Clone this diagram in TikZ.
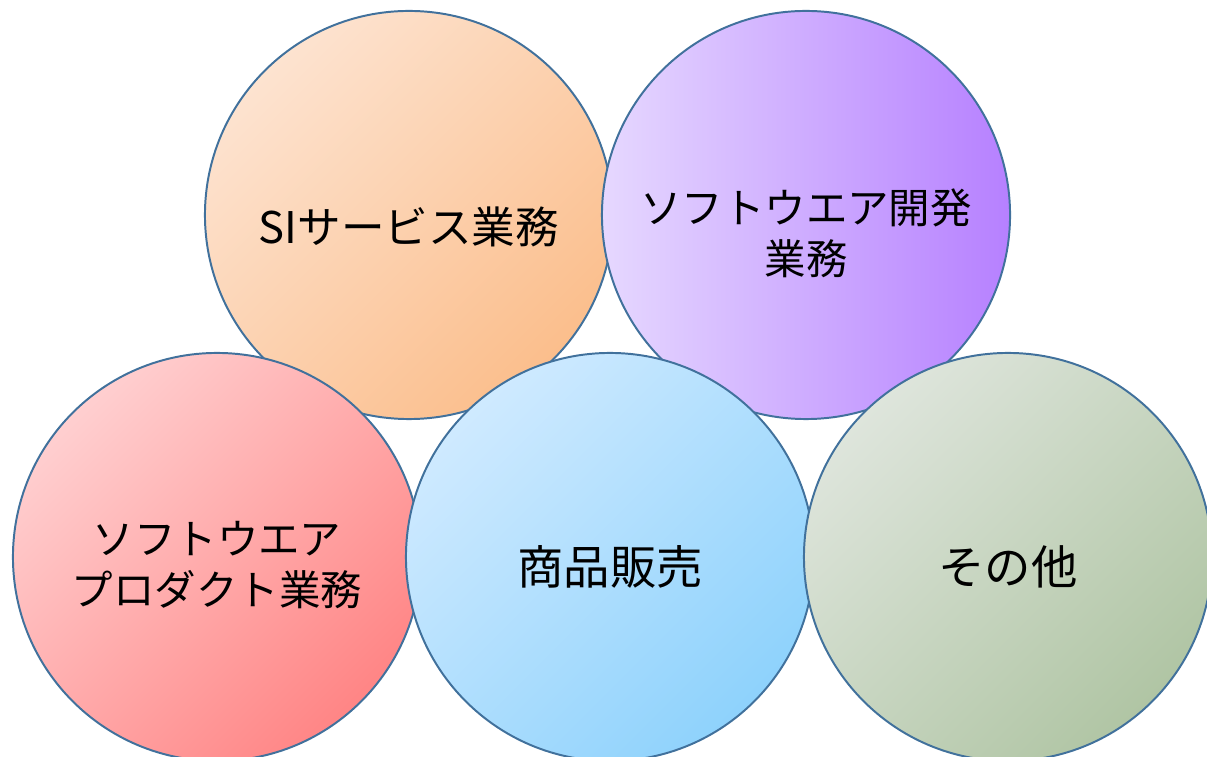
\documentclass[tikz,border=0pt]{standalone}
\usepackage{fontspec}
\setmainfont{Noto Sans CJK JP}
\usepackage{tikz}
\usepackage{xcolor}
\usetikzlibrary{shapes.geometric, positioning, calc}

\definecolor{rim}{RGB}{65,113,156}
\definecolor{siA}{HTML}{FDE3D0}
\definecolor{siB}{HTML}{FBBE8C}
\definecolor{devA}{HTML}{E6D8FF}
\definecolor{devB}{HTML}{B680FF}
\definecolor{prodA}{HTML}{FFCFD0}
\definecolor{prodB}{HTML}{FF8585}
\definecolor{saleA}{HTML}{CFEAFF}
\definecolor{saleB}{HTML}{8ED2FC}
\definecolor{etcA}{HTML}{DEE5DC}
\definecolor{etcB}{HTML}{B0C5A4}

\begin{document}
\begin{tikzpicture}[x=0.025cm, y=0.025cm,
            bubble/.style={circle, draw=rim, line width=1.4pt, minimum size=10.2cm, inner sep=0pt, outer sep=0pt},
            diag/.style 2 args={bubble, top color=#1, bottom color=#2, shading angle=45},
            label_text/.style={align=center, font=\fontsize{29.5}{36}\selectfont, text=black},
            big_text/.style={label_text, font=\fontsize{33}{38}\selectfont}
        ]

\useasboundingbox (0,0) rectangle (1207,756);
\clip (0,0) rectangle (1207,756);

% Upper row
            \node[diag={siA}{siB}] (si) at (409,541) {};
            \node[bubble, left color=devA, right color=devB] (dev) at (806,541) {};

% Lower row
            \node[diag={prodA}{prodB}] (prod) at (217,199) {};
            \node[diag={saleA}{saleB}] (sale) at (610,199) {};
            \node[diag={etcA}{etcB}] (etc) at (1008,199) {};

% Labels
            \node[label_text, font=\fontsize{31}{36}\selectfont] (si_lbl) at ([yshift=-0.3cm]si.center) {SIサービス業務};
            \node[label_text] (dev_lbl) at ([yshift=-0.45cm]dev.center) {ソフトウエア開発\\業務};
            \node[label_text] (prod_lbl) at ([yshift=-0.2cm]prod.center) {ソフトウエア\\プロダクト業務};
            \node[big_text] (sale_lbl) at ([yshift=-0.25cm]sale.center) {商品販売};
            \node[big_text] (etc_lbl) at ([yshift=-0.25cm]etc.center) {その他};

        \end{tikzpicture}
\end{document}
